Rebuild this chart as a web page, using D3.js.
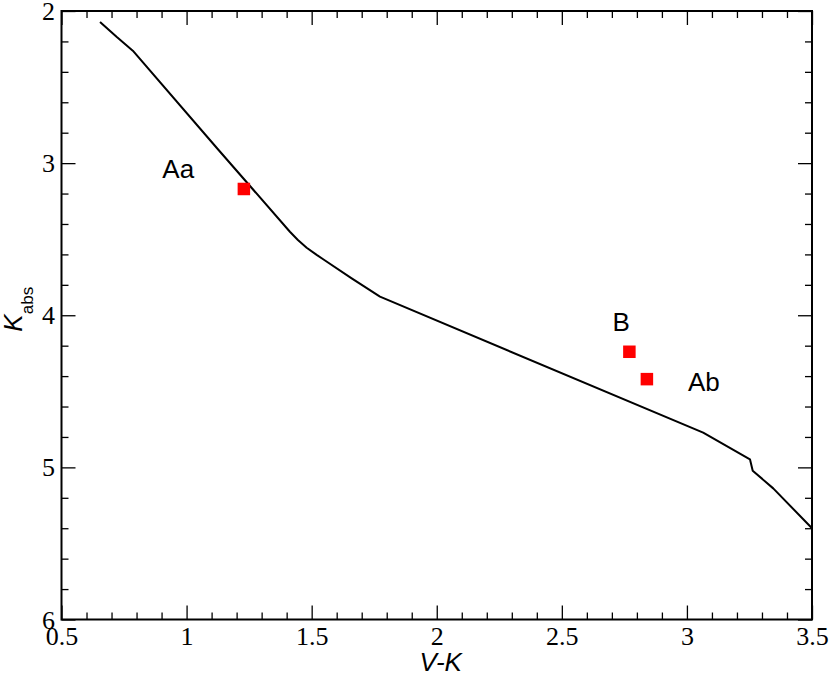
<!DOCTYPE html>
<html>
<head>
<meta charset="utf-8">
<script src="https://cdn.jsdelivr.net/npm/d3@7"></script>
<style>
  body { margin: 0; background: #fff; }
  svg { display: block; }
  .tick-label { font-family: "Liberation Serif", "Times New Roman", Times, serif; font-size: 26px; }
</style>
</head>
<body>
<div class="container"></div>
<script>
// isochrone curve (V-K, K_abs)
const curveVK = [0.654, 0.72, 0.785, 1.127, 1.413, 1.445, 1.48, 1.52, 1.546, 1.66, 1.773, 3.065, 3.252, 3.263, 3.345, 3.5];
const curveK = [2.072, 2.17, 2.261, 2.912, 3.451, 3.505, 3.556, 3.603, 3.632, 3.758, 3.878, 4.772, 4.947, 5.022, 5.138, 5.4];

// the three components
const starNames = ["Aa", "B", "Ab"];
const starVK = [1.229, 2.77, 2.84];
const starK = [3.17, 4.24, 4.42];

const xTicks = [0.5, 1, 1.5, 2, 2.5, 3, 3.5];
const yTicks = [2, 3, 4, 5, 6];

const width = 830;
const height = 674;
const margin = { top: 11, right: 18, bottom: 54.5, left: 61.5 };
const w = width - margin.left - margin.right;
const h = height - margin.top - margin.bottom;

const svg = d3.select(".container")
  .append("svg")
  .attr("width", width)
  .attr("height", height);

const g = svg.append("g")
  .attr("transform", `translate(${margin.left},${margin.top})`);

const x = d3.scaleLinear().domain([0.5, 3.5]).range([0, w]);
const y = d3.scaleLinear().domain([2, 6]).range([0, h]);

const sans = '"Liberation Sans", Arial, Helvetica, sans-serif';

const xMinor = d3.range(5, 36).map((d) => d / 10).filter((d) => !xTicks.includes(d));
const yMinor = d3.range(10, 31).map((d) => d / 5).filter((d) => !yTicks.includes(d));

// ticks point inward on all four sides
function addAxis(axis, transform) {
  const a = g.append("g").attr("transform", transform).call(axis);
  a.attr("font-family", null).attr("font-size", null);
  a.select(".domain").remove();
  a.selectAll("line").attr("stroke", "#000").attr("stroke-width", 1.3);
  return a;
}

const fmt = (d) => d3.format("")(d);

const xAxis = addAxis(
  d3.axisBottom(x).tickValues(xTicks).tickSizeInner(-14).tickSizeOuter(0).tickFormat(fmt),
  `translate(0,${h})`
);
xAxis.selectAll("text")
  .attr("class", "tick-label")
  .attr("y", 25.5)
  .attr("dy", 0)
  .attr("fill", "#000");
addAxis(d3.axisBottom(x).tickValues(xMinor).tickSizeInner(-7).tickSizeOuter(0).tickFormat(""), `translate(0,${h})`);
addAxis(d3.axisTop(x).tickValues(xTicks).tickSizeInner(-14).tickSizeOuter(0).tickFormat(""), "translate(0,0)");
addAxis(d3.axisTop(x).tickValues(xMinor).tickSizeInner(-7).tickSizeOuter(0).tickFormat(""), "translate(0,0)");

const yAxis = addAxis(
  d3.axisLeft(y).tickValues(yTicks).tickSizeInner(-14).tickSizeOuter(0).tickFormat(fmt),
  "translate(0,0)"
);
yAxis.selectAll("text")
  .attr("class", "tick-label")
  .attr("x", -6.5)
  .attr("dy", "0.33em")
  .attr("fill", "#000");
addAxis(d3.axisLeft(y).tickValues(yMinor).tickSizeInner(-7).tickSizeOuter(0).tickFormat(""), "translate(0,0)");
addAxis(d3.axisRight(y).tickValues(yTicks).tickSizeInner(-14).tickSizeOuter(0).tickFormat(""), `translate(${w},0)`);
addAxis(d3.axisRight(y).tickValues(yMinor).tickSizeInner(-7).tickSizeOuter(0).tickFormat(""), `translate(${w},0)`);

// clip for the curve
g.append("clipPath")
  .attr("id", "plot-clip")
  .append("rect")
  .attr("width", w)
  .attr("height", h);

const curve = curveVK.map((d, i) => [d, curveK[i]]);
const line = d3.line()
  .x((d) => x(d[0]))
  .y((d) => y(d[1]));

g.append("path")
  .datum(curve)
  .attr("clip-path", "url(#plot-clip)")
  .attr("fill", "none")
  .attr("stroke", "#000")
  .attr("stroke-width", 2)
  .attr("stroke-linejoin", "round")
  .attr("d", line);

// red squares
const sq = 12.5;
g.append("g")
  .selectAll("rect")
  .data(starNames)
  .join("rect")
  .attr("x", (d, i) => x(starVK[i]) - sq / 2)
  .attr("y", (d, i) => y(starK[i]) - sq / 2)
  .attr("width", sq)
  .attr("height", sq)
  .attr("fill", "#ff0000");

// component labels, placed relative to their squares
const labelOffset = { Aa: [-81.5, -10.5], B: [-17, -21], Ab: [41, 12] };
g.append("g")
  .selectAll("text")
  .data(starNames)
  .join("text")
  .attr("x", (d, i) => x(starVK[i]) + labelOffset[d][0])
  .attr("y", (d, i) => y(starK[i]) + labelOffset[d][1])
  .style("font-family", sans)
  .style("font-size", "26px")
  .attr("fill", "#000")
  .text((d) => d);

// frame
g.append("rect")
  .attr("width", w)
  .attr("height", h)
  .attr("fill", "none")
  .attr("stroke", "#000")
  .attr("stroke-width", 2);

// axis titles
svg.append("text")
  .attr("x", margin.left + w / 2 + 4)
  .attr("y", 671)
  .attr("text-anchor", "middle")
  .style("font-family", sans)
  .style("font-size", "26px")
  .style("font-style", "italic")
  .text("V-K");

const yTitle = svg.append("text")
  .attr("transform", `translate(22,${margin.top + h / 2 - 6}) rotate(-90)`)
  .attr("text-anchor", "middle")
  .style("font-family", sans)
  .style("font-size", "26px");
yTitle.append("tspan").style("font-style", "italic").text("K");
yTitle.append("tspan").attr("dy", 11).style("font-size", "17px").text("abs");
</script>
</body>
</html>
